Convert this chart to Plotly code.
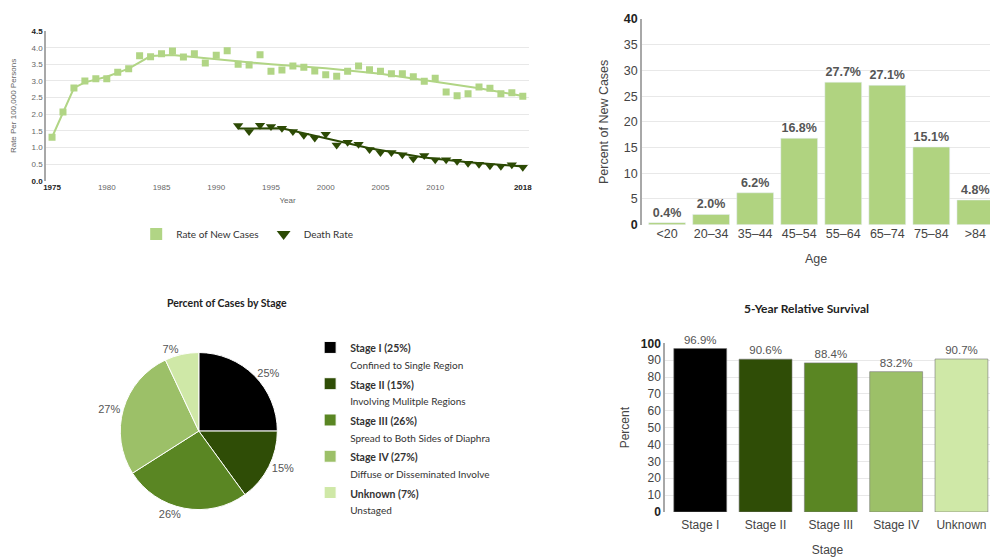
import plotly.graph_objects as go

# ---------------- data ----------------
inc_years = list(range(1975, 2019))
rate_new = [1.31, 2.07, 2.79, 3.00, 3.07, 3.07, 3.26, 3.37, 3.76, 3.73, 3.82, 3.90, 3.72, 3.82, 3.54,
            3.77, 3.91, 3.50, 3.48, 3.79, 3.29, 3.33, 3.45, 3.41, 3.30, 3.19, 3.14, 3.29, 3.45, 3.34,
            3.29, 3.22, 3.22, 3.13, 2.99, 3.08, 2.67, 2.56, 2.62, 2.82, 2.78, 2.62, 2.65, 2.54]
inc_trend_years = [1975, 1976, 1977, 1978, 1980, 1982, 1984, 1986, 1990, 1995, 2000, 2005, 2010, 2014, 2018]
inc_trend = [1.31, 2.07, 2.79, 2.96, 3.13, 3.37, 3.75, 3.78, 3.65, 3.50, 3.38, 3.22, 2.98, 2.78, 2.55]

death_years = list(range(1992, 2019))
death_rate = [1.66, 1.48, 1.67, 1.63, 1.58, 1.48, 1.37, 1.29, 1.40, 1.08, 1.16, 1.10, 0.94, 0.85, 0.85,
              0.78, 0.66, 0.76, 0.63, 0.63, 0.59, 0.53, 0.50, 0.45, 0.44, 0.48, 0.41]
death_trend_years = [1992, 1996, 2004, 2009, 2013, 2018]
death_trend = [1.57, 1.58, 0.98, 0.70, 0.56, 0.43]

year_ticks = [1975, 1980, 1985, 1990, 1995, 2000, 2005, 2010, 2018]
rate_ticks = [0.0, 0.5, 1.0, 1.5, 2.0, 2.5, 3.0, 3.5, 4.0, 4.5]

age_groups = ["<20", "20\u201334", "35\u201344", "45\u201354", "55\u201364", "65\u201374", "75\u201384", ">84"]
age_pct = [0.4, 2.0, 6.2, 16.8, 27.7, 27.1, 15.1, 4.8]
age_ticks = [0, 5, 10, 15, 20, 25, 30, 35, 40]

stage_names = ["Stage I", "Stage II", "Stage III", "Stage IV", "Unknown"]
stage_pct = [25, 15, 26, 27, 7]
stage_desc = ["Confined to Single Region", "Involving Mulitple Regions", "Spread to Both Sides of Diaphra",
              "Diffuse or Disseminated Involve", "Unstaged"]
survival = [96.9, 90.6, 88.4, 83.2, 90.7]
surv_ticks = [0, 10, 20, 30, 40, 50, 60, 70, 80, 90, 100]

# ---------------- styles ----------------
W, H = 993, 557
LIGHT = "#b1d585"
DARK = "#2c4a04"
STAGE_COLORS = ["#000000", "#2f4d06", "#5a8623", "#9cc068", "#cfe8a7"]
ARIAL = "Liberation Sans, Arial, sans-serif"
LATO = "Lato, sans-serif"
GRID = "#e8e8e8"
AXL = "#a8a8a8"


def px_x(a, b):
    return [a / W, b / W]


def px_y(top, bottom):
    return [1 - bottom / H, 1 - top / H]


def bold_ticks(vals, fmt):
    out = []
    for i, v in enumerate(vals):
        t = fmt(v)
        if i == 0 or i == len(vals) - 1:
            t = "<b><span style='color:#222'>" + t + "</span></b>"
        out.append(t)
    return out


fig = go.Figure()

# ---- top-left: trend chart ----
fig.add_trace(go.Scatter(x=inc_trend_years, y=inc_trend, mode="lines", line=dict(color=LIGHT, width=2),
                         showlegend=False, hoverinfo="skip", xaxis="x", yaxis="y"))
fig.add_trace(go.Scatter(x=death_trend_years, y=death_trend, mode="lines", line=dict(color=DARK, width=2),
                         showlegend=False, hoverinfo="skip", xaxis="x", yaxis="y"))
fig.add_trace(go.Scatter(x=inc_years, y=rate_new, mode="markers", name="Rate of New Cases",
                         marker=dict(symbol="square", size=7, color=LIGHT), xaxis="x", yaxis="y",
                         legend="legend"))
fig.add_trace(go.Scatter(x=death_years, y=death_rate, mode="markers", name="Death Rate",
                         marker=dict(symbol="triangle-down", size=9, color=DARK), xaxis="x", yaxis="y",
                         legend="legend"))

# ---- top-right: age bars ----
fig.add_trace(go.Bar(x=age_groups, y=age_pct, marker=dict(color="#b0d380"), width=0.835,
                     text=[f"{v:.1f}%" for v in age_pct], textposition="outside",
                     textfont=dict(family=ARIAL, size=12.5, color="#555"), texttemplate="<b>%{text}</b>",
                     showlegend=False, xaxis="x2", yaxis="y2"))

# ---- bottom-left: pie ----
pie_labels = [f"<b><span style='font-size:10.5px'>{n} ({p}%)</span></b><br>"
              f"<span style='font-size:10px'>{d}</span>"
              for n, p, d in zip(stage_names, stage_pct, stage_desc)]
fig.add_trace(go.Pie(labels=pie_labels, values=stage_pct, sort=False, direction="clockwise", rotation=0,
                     marker=dict(colors=STAGE_COLORS, line=dict(color="#ffffff", width=1)),
                     textinfo="percent", textposition="outside",
                     textfont=dict(family=ARIAL, size=11, color="#555"),
                     domain=dict(x=px_x(118, 276), y=px_y(354, 516)),
                     legend="legend2", hoverinfo="label+percent"))

# ---- bottom-right: survival bars ----
fig.add_trace(go.Bar(x=stage_names, y=survival, marker=dict(color=STAGE_COLORS, line=dict(color="#777", width=0.6)),
                     width=0.81, text=[f"{v:.1f}%" for v in survival], textposition="outside",
                     textfont=dict(family=ARIAL, size=11.5, color="#555"), cliponaxis=False,
                     showlegend=False, xaxis="x3", yaxis="y3"))

small = dict(family=ARIAL, size=8, color="#666")

fig.update_layout(
    width=W, height=H, margin=dict(l=0, r=0, t=0, b=0),
    paper_bgcolor="white", plot_bgcolor="white",
    bargap=0.1,
    xaxis=dict(domain=px_x(43.5, 529), range=[1974.47, 2018.55], tickvals=year_ticks,
               ticktext=bold_ticks(year_ticks, lambda v: str(v)), tickfont=small, showgrid=False,
               zeroline=False, showline=False, ticks="", anchor="y",
               title=dict(text="Year", font=small, standoff=6)),
    yaxis=dict(domain=px_y(24.7, 178.3), range=[0, 4.5], tickvals=rate_ticks,
               ticktext=bold_ticks(rate_ticks, lambda v: f"{v:.1f}"), tickfont=small,
               gridcolor=GRID, gridwidth=1, zeroline=False, showline=True, linecolor=AXL, linewidth=2,
               ticks="", anchor="x", title=dict(text="Rate Per 100,000 Persons", font=small, standoff=14)),
    xaxis2=dict(domain=px_x(643, 993), range=[-0.567, 7.333], tickfont=dict(family=ARIAL, size=12.5, color="#444"),
                showgrid=False, zeroline=False, showline=False, ticks="", anchor="y2",
                title=dict(text="Age", font=dict(family=ARIAL, size=12.5, color="#444"), standoff=14)),
    yaxis2=dict(domain=px_y(12.3, 223.3), range=[0, 40], tickvals=age_ticks,
                ticktext=bold_ticks(age_ticks, lambda v: str(v)),
                tickfont=dict(family=ARIAL, size=12.5, color="#444"), gridcolor=GRID, zeroline=False,
                showline=True, linecolor=AXL, linewidth=2, ticks="", anchor="x2",
                title=dict(text="Percent of New Cases", font=dict(family=ARIAL, size=12.5, color="#444"), standoff=12)),
    xaxis3=dict(domain=px_x(666, 993), range=[-0.54, 4.437], tickfont=dict(family=ARIAL, size=12, color="#444"),
                showgrid=False, zeroline=False, showline=False, ticks="", anchor="y3", ticklabelstandoff=4,
                title=dict(text="Stage", font=dict(family=ARIAL, size=12, color="#444"), standoff=14)),
    yaxis3=dict(domain=px_y(345, 518), range=[0, 100], tickvals=surv_ticks,
                ticktext=bold_ticks(surv_ticks, lambda v: str(v)),
                tickfont=dict(family=ARIAL, size=12, color="#444"), gridcolor=GRID, zeroline=False,
                showline=True, linecolor=AXL, linewidth=1.5, ticks="", anchor="x3",
                title=dict(text="Percent", font=dict(family=ARIAL, size=12, color="#444"), standoff=9)),
    legend=dict(orientation="h", x=134 / W, y=1 - 218 / H, xanchor="left", yanchor="top",
                font=dict(family=LATO, size=10, color="#333"), itemsizing="constant",
                bgcolor="rgba(0,0,0,0)"),
    legend2=dict(orientation="v", x=309 / W, y=1 - 334 / H, xanchor="left", yanchor="top",
                 font=dict(family=LATO, size=12.8, color="#333"), valign="top",
                 bgcolor="rgba(0,0,0,0)"),
    annotations=[
        dict(text="<b>Percent of Cases by Stage</b>", x=225 / W, y=1 - 304 / H, xref="paper", yref="paper",
             showarrow=False, font=dict(family=LATO, size=10.5, color="#222"), xanchor="center", yanchor="middle"),
        dict(text="<b>5-Year Relative Survival</b>", x=808 / W, y=1 - 309 / H, xref="paper", yref="paper",
             showarrow=False, font=dict(family=LATO, size=12, color="#222"), xanchor="center", yanchor="middle"),
    ],
)

fig.write_html("out.html", config={"displayModeBar": False},
               post_script="document.body.style.margin='0';")
